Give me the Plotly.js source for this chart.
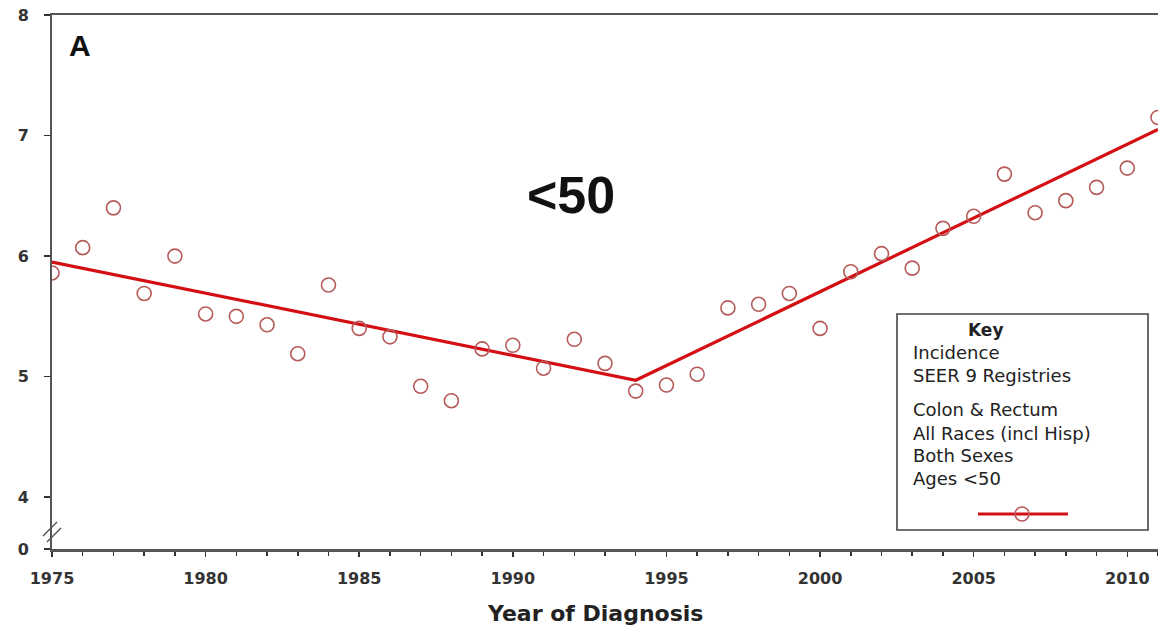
<!DOCTYPE html>
<html><head><meta charset="utf-8">
<script src="https://cdn.plot.ly/plotly-3.0.1.min.js"></script>
<style>html,body{margin:0;padding:0;background:#fff}#chart{width:1158px;height:630px}</style>
</head><body><div id="chart"></div>
<script>
const years = [1975,1976,1977,1978,1979,1980,1981,1982,1983,1984,1985,1986,1987,1988,1989,1990,1991,1992,1993,1994,1995,1996,1997,1998,1999,2000,2001,2002,2003,2004,2005,2006,2007,2008,2009,2010,2011];
const rates = [5.86,6.07,6.40,5.69,6.00,5.52,5.50,5.43,5.19,5.76,5.40,5.33,4.92,4.80,5.23,5.26,5.07,5.31,5.11,4.88,4.93,5.02,5.57,5.60,5.69,5.40,5.87,6.02,5.90,6.23,6.33,6.68,6.36,6.46,6.57,6.73,7.15];
const trendYears = [1975,1994,2011];
const trendRates = [5.95,4.97,7.05];
const yTickVals = [3.57,4,5,6,7,8];
const yTickText = ['0','4','5','6','7','8'];
const xTickVals = [1975,1980,1985,1990,1995,2000,2005,2010];
const keyLines = ['Incidence','SEER 9 Registries','','Colon & Rectum','All Races (incl Hisp)','Both Sexes','Ages <50'];

const red = '#d40f14';
const markerCol = '#b65a5a';
const axisCol = '#555';
const font = 'DejaVu Sans, Verdana, sans-serif';

const traces = [
  {x: trendYears, y: trendRates, mode:'lines', line:{color:red, width:3.2}, hoverinfo:'skip', showlegend:false},
  {x: years, y: rates, mode:'markers', marker:{symbol:'circle-open', size:14, color:markerCol, line:{width:1.6, color:markerCol}}, showlegend:false}
];

const px = v => (v-52)/1106;
const py = v => (549-v)/534;

const annotations = [
  {xref:'paper', yref:'paper', x:px(67), y:py(45), text:'<b>A</b>', showarrow:false, xanchor:'left', yanchor:'middle', font:{family:'Liberation Sans, Arial', size:30, color:'#111'}},
  {xref:'paper', yref:'paper', x:px(571), y:py(195), text:'<b>&lt;50</b>', showarrow:false, xanchor:'center', yanchor:'middle', font:{family:'Liberation Sans, Arial', size:52, color:'#111'}},
  {xref:'paper', yref:'paper', x:px(986), y:py(330), text:'<b>Key</b>', showarrow:false, xanchor:'center', yanchor:'middle', font:{family:font, size:17, color:'#222'}},
  {xref:'paper', yref:'paper', x:px(595), y:py(613), text:'<b>Year of Diagnosis</b>', showarrow:false, xanchor:'center', yanchor:'middle', font:{family:font, size:22, color:'#222'}}
];
const lineY = [352,375,null,410,433,455,478];
keyLines.forEach((t,i)=>{
  if(!t) return;
  annotations.push({xref:'paper', yref:'paper', x:px(911), y:py(lineY[i]), text:t.replace('<','&lt;'), showarrow:false, xanchor:'left', yanchor:'middle', font:{family:font, size:18, color:'#222'}});
});

const shapes = [
  {type:'rect', xref:'paper', yref:'paper', x0:px(897), x1:px(1148), y0:py(530), y1:py(314), line:{color:'#444', width:1.6}, fillcolor:'white', layer:'below'},
  {type:'line', xref:'paper', yref:'paper', x0:px(978), x1:px(1068), y0:py(514), y1:py(514), line:{color:red, width:3}},
  {type:'circle', xref:'paper', yref:'paper', x0:px(1015), x1:px(1029), y0:py(521), y1:py(507), line:{color:markerCol, width:1.6}},
  {type:'line', xref:'paper', yref:'paper', x0:px(43), x1:px(57), y0:py(536), y1:py(522), line:{color:axisCol, width:1.5}},
  {type:'line', xref:'paper', yref:'paper', x0:px(47), x1:px(61), y0:py(542), y1:py(528), line:{color:axisCol, width:1.5}}
];

const layout = {
  width:1158, height:630,
  margin:{l:52, r:0, t:15, b:81},
  paper_bgcolor:'#fff', plot_bgcolor:'#fff',
  xaxis:{range:[1975,2011], tickvals:xTickVals, ticktext:xTickVals.map(String), ticks:'outside', ticklen:5, tickwidth:1.5, tickcolor:'#333',
    minor:{dtick:1, tick0:1975, ticks:'outside', ticklen:4, tickwidth:1.5, tickcolor:'#333'},
    showline:true, linecolor:axisCol, linewidth:2.5, mirror:true, showgrid:false, zeroline:false,
    tickfont:{family:font, size:16, color:'#333', weight:'bold'}, ticklabelstandoff:8},
  yaxis:{range:[3.57,8], tickvals:yTickVals, ticktext:yTickText, ticks:'outside', ticklen:6, tickwidth:1.5, tickcolor:'#333',
    showline:true, linecolor:axisCol, linewidth:2, showgrid:false, zeroline:false,
    tickfont:{family:font, size:16, color:'#333', weight:'bold'}, ticklabelstandoff:12},
  annotations, shapes, showlegend:false
};
Plotly.newPlot('chart', traces, layout, {staticPlot:true});
</script></body></html>
